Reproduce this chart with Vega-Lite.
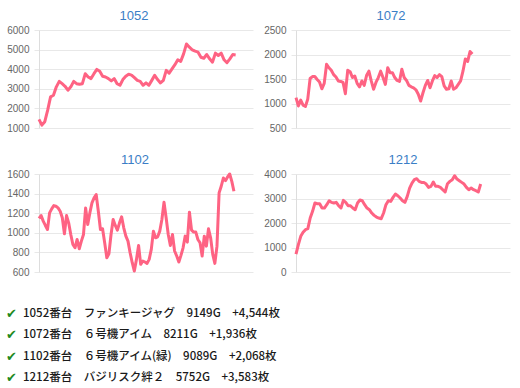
{
  "$schema": "https://vega.github.io/schema/vega-lite/v6.json",
  "padding": {"left": 6, "top": 10, "right": 5, "bottom": 5},
  "background": "white",
  "datasets": {
    "d1052": [{"i":0,"v":1440},{"i":1,"v":1150},{"i":2,"v":1320},{"i":3,"v":1910},{"i":4,"v":2590},{"i":5,"v":2670},{"i":6,"v":3100},{"i":7,"v":3380},{"i":8,"v":3260},{"i":9,"v":3130},{"i":10,"v":2930},{"i":11,"v":3100},{"i":12,"v":3380},{"i":13,"v":3260},{"i":14,"v":3230},{"i":15,"v":3260},{"i":16,"v":3770},{"i":17,"v":3600},{"i":18,"v":3520},{"i":19,"v":3770},{"i":20,"v":3990},{"i":21,"v":3890},{"i":22,"v":3640},{"i":23,"v":3600},{"i":24,"v":3520},{"i":25,"v":3400},{"i":26,"v":3520},{"i":27,"v":3260},{"i":28,"v":3180},{"i":29,"v":3470},{"i":30,"v":3640},{"i":31,"v":3740},{"i":32,"v":3700},{"i":33,"v":3570},{"i":34,"v":3430},{"i":35,"v":3380},{"i":36,"v":3180},{"i":37,"v":3300},{"i":38,"v":3180},{"i":39,"v":3430},{"i":40,"v":3690},{"i":41,"v":3470},{"i":42,"v":3300},{"i":43,"v":3430},{"i":44,"v":3940},{"i":45,"v":3800},{"i":46,"v":4020},{"i":47,"v":4230},{"i":48,"v":4480},{"i":49,"v":4400},{"i":50,"v":4780},{"i":51,"v":5290},{"i":52,"v":5120},{"i":53,"v":4990},{"i":54,"v":4920},{"i":55,"v":4870},{"i":56,"v":4610},{"i":57,"v":4560},{"i":58,"v":4750},{"i":59,"v":4530},{"i":60,"v":4360},{"i":61,"v":4820},{"i":62,"v":4700},{"i":63,"v":4820},{"i":64,"v":4480},{"i":65,"v":4330},{"i":66,"v":4530},{"i":67,"v":4750},{"i":68,"v":4730}],
    "d1072": [{"i":0,"v":1120},{"i":1,"v":950},{"i":2,"v":1070},{"i":3,"v":965},{"i":4,"v":940},{"i":5,"v":1090},{"i":6,"v":1510},{"i":7,"v":1550},{"i":8,"v":1550},{"i":9,"v":1490},{"i":10,"v":1440},{"i":11,"v":1300},{"i":12,"v":1410},{"i":13,"v":1800},{"i":14,"v":1730},{"i":15,"v":1680},{"i":16,"v":1590},{"i":17,"v":1540},{"i":18,"v":1460},{"i":19,"v":1450},{"i":20,"v":1430},{"i":21,"v":1200},{"i":22,"v":1680},{"i":23,"v":1650},{"i":24,"v":1530},{"i":25,"v":1560},{"i":26,"v":1410},{"i":27,"v":1340},{"i":28,"v":1460},{"i":29,"v":1370},{"i":30,"v":1570},{"i":31,"v":1660},{"i":32,"v":1460},{"i":33,"v":1290},{"i":34,"v":1430},{"i":35,"v":1530},{"i":36,"v":1660},{"i":37,"v":1530},{"i":38,"v":1390},{"i":39,"v":1730},{"i":40,"v":1630},{"i":41,"v":1630},{"i":42,"v":1530},{"i":43,"v":1470},{"i":44,"v":1450},{"i":45,"v":1700},{"i":46,"v":1530},{"i":47,"v":1470},{"i":48,"v":1370},{"i":49,"v":1340},{"i":50,"v":1320},{"i":51,"v":1280},{"i":52,"v":1190},{"i":53,"v":1050},{"i":54,"v":1220},{"i":55,"v":1370},{"i":56,"v":1470},{"i":57,"v":1320},{"i":58,"v":1460},{"i":59,"v":1570},{"i":60,"v":1530},{"i":61,"v":1590},{"i":62,"v":1550},{"i":63,"v":1360},{"i":64,"v":1290},{"i":65,"v":1300},{"i":66,"v":1460},{"i":67,"v":1290},{"i":68,"v":1320},{"i":69,"v":1390},{"i":70,"v":1460},{"i":71,"v":1660},{"i":72,"v":1910},{"i":73,"v":1860},{"i":74,"v":2060},{"i":75,"v":2010}],
    "d1102": [{"i":0,"v":1146},{"i":1,"v":1176},{"i":2,"v":1119},{"i":3,"v":1075},{"i":4,"v":1034},{"i":5,"v":1203},{"i":6,"v":1244},{"i":7,"v":1278},{"i":8,"v":1271},{"i":9,"v":1254},{"i":10,"v":1220},{"i":11,"v":1153},{"i":12,"v":990},{"i":13,"v":1176},{"i":14,"v":1102},{"i":15,"v":983},{"i":16,"v":881},{"i":17,"v":847},{"i":18,"v":932},{"i":19,"v":837},{"i":20,"v":915},{"i":21,"v":983},{"i":22,"v":1254},{"i":23,"v":1085},{"i":24,"v":1203},{"i":25,"v":1305},{"i":26,"v":1356},{"i":27,"v":1390},{"i":28,"v":1220},{"i":29,"v":1034},{"i":30,"v":1041},{"i":31,"v":898},{"i":32,"v":746},{"i":33,"v":786},{"i":34,"v":983},{"i":35,"v":1136},{"i":36,"v":1075},{"i":37,"v":1027},{"i":38,"v":1102},{"i":39,"v":1163},{"i":40,"v":1051},{"i":41,"v":966},{"i":42,"v":915},{"i":43,"v":797},{"i":44,"v":695},{"i":45,"v":610},{"i":46,"v":729},{"i":47,"v":871},{"i":48,"v":678},{"i":49,"v":712},{"i":50,"v":702},{"i":51,"v":688},{"i":52,"v":729},{"i":53,"v":831},{"i":54,"v":1017},{"i":55,"v":949},{"i":56,"v":959},{"i":57,"v":1017},{"i":58,"v":1136},{"i":59,"v":1312},{"i":60,"v":1153},{"i":61,"v":983},{"i":62,"v":871},{"i":63,"v":983},{"i":64,"v":814},{"i":65,"v":763},{"i":66,"v":702},{"i":67,"v":770},{"i":68,"v":847},{"i":69,"v":966},{"i":70,"v":905},{"i":71,"v":1210},{"i":72,"v":1027},{"i":73,"v":1007},{"i":74,"v":1007},{"i":75,"v":932},{"i":76,"v":898},{"i":77,"v":763},{"i":78,"v":966},{"i":79,"v":864},{"i":80,"v":1041},{"i":81,"v":949},{"i":82,"v":780},{"i":83,"v":688},{"i":84,"v":864},{"i":85,"v":1407},{"i":86,"v":1475},{"i":87,"v":1559},{"i":88,"v":1532},{"i":89,"v":1570},{"i":90,"v":1600},{"i":91,"v":1525},{"i":92,"v":1424}],
    "d1212": [{"i":0,"v":734},{"i":1,"v":1115},{"i":2,"v":1455},{"i":3,"v":1618},{"i":4,"v":1727},{"i":5,"v":1768},{"i":6,"v":2203},{"i":7,"v":2475},{"i":8,"v":2815},{"i":9,"v":2788},{"i":10,"v":2788},{"i":11,"v":2611},{"i":12,"v":2611},{"i":13,"v":2747},{"i":14,"v":2910},{"i":15,"v":2842},{"i":16,"v":2815},{"i":17,"v":2842},{"i":18,"v":2706},{"i":19,"v":2611},{"i":20,"v":2924},{"i":21,"v":2842},{"i":22,"v":2706},{"i":23,"v":2706},{"i":24,"v":2611},{"i":25,"v":2543},{"i":26,"v":2815},{"i":27,"v":2938},{"i":28,"v":2910},{"i":29,"v":2747},{"i":30,"v":2611},{"i":31,"v":2543},{"i":32,"v":2407},{"i":33,"v":2312},{"i":34,"v":2244},{"i":35,"v":2203},{"i":36,"v":2176},{"i":37,"v":2407},{"i":38,"v":2747},{"i":39,"v":2910},{"i":40,"v":2883},{"i":41,"v":3046},{"i":42,"v":3182},{"i":43,"v":3114},{"i":44,"v":3019},{"i":45,"v":2910},{"i":46,"v":2842},{"i":47,"v":3087},{"i":48,"v":3427},{"i":49,"v":3631},{"i":50,"v":3767},{"i":51,"v":3808},{"i":52,"v":3699},{"i":53,"v":3658},{"i":54,"v":3658},{"i":55,"v":3590},{"i":56,"v":3454},{"i":57,"v":3495},{"i":58,"v":3672},{"i":59,"v":3495},{"i":60,"v":3495},{"i":61,"v":3454},{"i":62,"v":3359},{"i":63,"v":3264},{"i":64,"v":3604},{"i":65,"v":3699},{"i":66,"v":3767},{"i":67,"v":3930},{"i":68,"v":3794},{"i":69,"v":3726},{"i":70,"v":3658},{"i":71,"v":3590},{"i":72,"v":3454},{"i":73,"v":3359},{"i":74,"v":3427},{"i":75,"v":3359},{"i":76,"v":3318},{"i":77,"v":3264},{"i":78,"v":3590}],
    "summary": [
      {"machine":"1052","text":"1052番台　ファンキージャグ　9149G　+4,544枚"},
      {"machine":"1072","text":"1072番台　６号機アイム　8211G　+1,936枚"},
      {"machine":"1102","text":"1102番台　６号機アイム(緑)　9089G　+2,068枚"},
      {"machine":"1212","text":"1212番台　バジリスク絆２　5752G　+3,583枚"}
    ]
  },
  "spacing": 26,
  "vconcat": [
    {
      "spacing": 21,
      "vconcat": [
        {
          "hconcat": [
            {
              "width": 214, "height": 98,
              "data": {"name": "d1052"},
              "title": {"text": "1052", "dx": -12},
              "mark": {"type": "line", "color": "#fe6383", "strokeWidth": 3, "strokeJoin": "round"},
              "encoding": {
                "x": {"field": "i", "type": "quantitative", "scale": {"domain": [0, 74], "nice": false}, "axis": null},
                "y": {"field": "v", "type": "quantitative", "scale": {"domain": [1000, 6000], "nice": false, "zero": false}, "axis": {"values": [1000, 2000, 3000, 4000, 5000, 6000], "format": "d", "title": null}}
              }
            },
            {
              "width": 214, "height": 98,
              "data": {"name": "d1072"},
              "title": {"text": "1072", "dx": -12},
              "mark": {"type": "line", "color": "#fe6383", "strokeWidth": 3, "strokeJoin": "round"},
              "encoding": {
                "x": {"field": "i", "type": "quantitative", "scale": {"domain": [0, 91], "nice": false}, "axis": null},
                "y": {"field": "v", "type": "quantitative", "scale": {"domain": [500, 2500], "nice": false, "zero": false}, "axis": {"values": [500, 1000, 1500, 2000, 2500], "format": "d", "title": null}}
              }
            }
          ]
        },
        {
          "hconcat": [
            {
              "width": 214, "height": 98,
              "data": {"name": "d1102"},
              "title": {"text": "1102", "dx": -11},
              "mark": {"type": "line", "color": "#fe6383", "strokeWidth": 3, "strokeJoin": "round"},
              "encoding": {
                "x": {"field": "i", "type": "quantitative", "scale": {"domain": [0, 101], "nice": false}, "axis": null},
                "y": {"field": "v", "type": "quantitative", "scale": {"domain": [600, 1600], "nice": false, "zero": false}, "axis": {"values": [600, 800, 1000, 1200, 1400, 1600], "format": "d", "title": null}}
              }
            },
            {
              "width": 214, "height": 98,
              "data": {"name": "d1212"},
              "title": {"text": "1212", "dx": 0},
              "mark": {"type": "line", "color": "#fe6383", "strokeWidth": 3, "strokeJoin": "round"},
              "encoding": {
                "x": {"field": "i", "type": "quantitative", "scale": {"domain": [0, 90.4], "nice": false}, "axis": null},
                "y": {"field": "v", "type": "quantitative", "scale": {"domain": [0, 4000], "nice": false}, "axis": {"values": [0, 1000, 2000, 3000, 4000], "format": "d", "title": null}}
              }
            }
          ]
        }
      ]
    },
    {
      "width": 200, "height": 86,
      "data": {"name": "summary"},
      "layer": [
        {
          "mark": {"type": "text", "align": "left", "baseline": "middle", "font": "DejaVu Sans", "fontSize": 13, "color": "#1e8a1e", "text": "✔", "dx": -33},
          "encoding": {
            "x": {"value": 0},
            "y": {"field": "machine", "type": "ordinal", "sort": null, "axis": null, "scale": {"type": "point", "padding": 0.5}}
          }
        },
        {
          "mark": {"type": "text", "align": "left", "baseline": "middle", "font": "Noto Sans CJK JP", "fontSize": 11.5, "fontWeight": 500, "color": "#1a1a1a", "dx": -16},
          "encoding": {
            "x": {"value": 0},
            "y": {"field": "machine", "type": "ordinal", "sort": null, "axis": null, "scale": {"type": "point", "padding": 0.5}},
            "text": {"field": "text", "type": "nominal"}
          }
        }
      ]
    }
  ],
  "config": {
    "view": {"stroke": null},
    "concat": {"spacing": 10},
    "axis": {"labelColor": "#666666", "labelFontSize": 10, "labelFont": "Liberation Sans", "gridColor": "#e8e8e8", "domainColor": "#dddddd", "tickColor": "#e8e8e8", "tickSize": 5, "labelPadding": 5, "domainWidth": 1, "gridWidth": 1},
    "title": {"fontSize": 13, "font": "Liberation Sans", "fontWeight": "normal", "color": "#3a7ec6", "offset": 2}
  }
}
